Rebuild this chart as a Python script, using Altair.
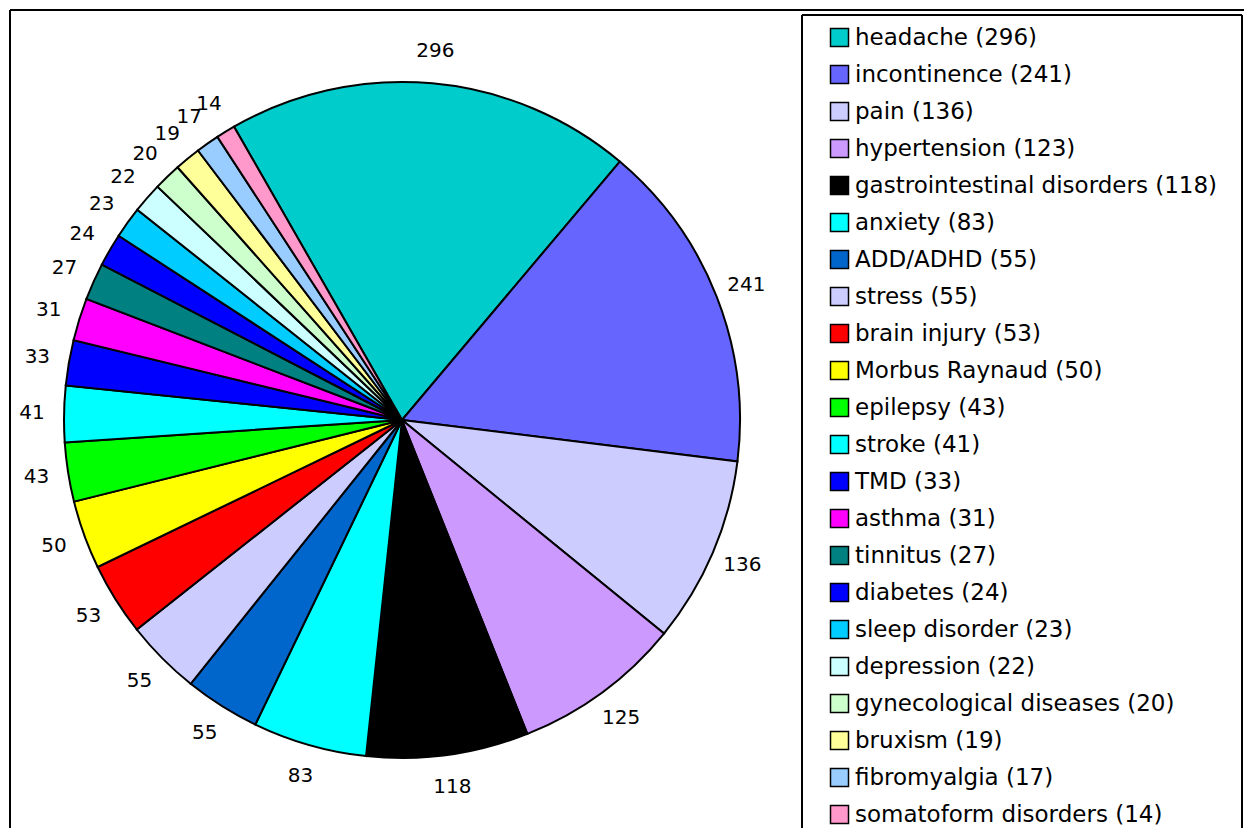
import math
import altair as alt
import pandas as pd

names = ["headache", "incontinence", "pain", "hypertension", "gastrointestinal disorders",
         "anxiety", "ADD/ADHD", "stress", "brain injury", "Morbus Raynaud", "epilepsy",
         "stroke", "TMD", "asthma", "tinnitus", "diabetes", "sleep disorder", "depression",
         "gynecological diseases", "bruxism", "fibromyalgia", "somatoform disorders"]
values = [296, 241, 136, 123, 118, 83, 55, 55, 53, 50, 43, 41, 33, 31, 27, 24, 23, 22, 20, 19, 17, 14]
slice_labels = ["296", "241", "136", "125", "118", "83", "55", "55", "53", "50", "43",
                "41", "33", "31", "27", "24", "23", "22", "20", "19", "17", "14"]
colors = ["#00CCCC", "#6666FF", "#CCCCFF", "#CC99FF", "#000000", "#00FFFF", "#0066CC",
          "#CCCCFF", "#FF0000", "#FFFF00", "#00FF00", "#00FFFF", "#0000FF", "#FF00FF",
          "#008080", "#0000FF", "#00CCFF", "#CCFFFF", "#CCFFCC", "#FFFF99", "#99CCFF",
          "#FF99CC"]

legend_labels = [f"{n} ({v})" for n, v in zip(names, values)]
df = pd.DataFrame({
    "idx": list(range(len(names))),
    "name": legend_labels,
    "value": values,
    "lab": slice_labels,
})

FONT = "DejaVu Sans"
start = -29.8 * math.pi / 180
theta_scale = alt.Scale(range=[2 * math.pi + start, 4 * math.pi + start])
cx, cy = 392, 410

base = alt.Chart(df)

pie = base.mark_arc(outerRadius=338, stroke="black", strokeWidth=2).encode(
    theta=alt.Theta("value:Q", stack=True, scale=theta_scale),
    order=alt.Order("idx:Q"),
    x=alt.value(cx), y=alt.value(cy),
    color=alt.Color("name:N",
                    scale=alt.Scale(domain=legend_labels, range=colors),
                    sort=legend_labels,
                    legend=alt.Legend(title=None, orient="none", legendX=818, legendY=16,
                                      symbolType="square", symbolSize=324,
                                      symbolStrokeColor="black", symbolStrokeWidth=1.5,
                                      symbolOpacity=1,
                                      labelFont=FONT, labelFontSize=23, labelColor="black",
                                      labelLimit=600, labelOffset=4, rowPadding=12,
                                      padding=0)),
)

text = base.mark_text(radius=370, font=FONT, fontSize=20, color="black").encode(
    theta=alt.Theta("value:Q", stack=True, scale=theta_scale),
    order=alt.Order("idx:Q"),
    x=alt.value(cx), y=alt.value(cy),
    text="lab:N",
)

one = alt.Chart(pd.DataFrame({"a": [0]}))
frame_top = one.mark_rule(color="black", strokeWidth=2).encode(
    x=alt.value(0), x2=alt.value(1240), y=alt.value(0))
frame_left = one.mark_rule(color="black", strokeWidth=2).encode(
    x=alt.value(0), y=alt.value(0), y2=alt.value(830))
leg_top = one.mark_rule(color="black", strokeWidth=2).encode(
    x=alt.value(792), x2=alt.value(1232), y=alt.value(5))
leg_left = one.mark_rule(color="black", strokeWidth=2).encode(
    x=alt.value(792), y=alt.value(5), y2=alt.value(830))
leg_right = one.mark_rule(color="black", strokeWidth=2).encode(
    x=alt.value(1232), y=alt.value(5), y2=alt.value(830))

chart = alt.layer(frame_top, frame_left, leg_top, leg_left, leg_right, pie, text).properties(
    width=1234, height=818,
    padding={"left": 2, "top": 2, "right": 0, "bottom": 0},
    autosize=alt.AutoSizeParams(type="none"),
).configure_view(strokeWidth=0)

chart.save("out.html", embed_options={"renderer": "svg", "actions": False})
